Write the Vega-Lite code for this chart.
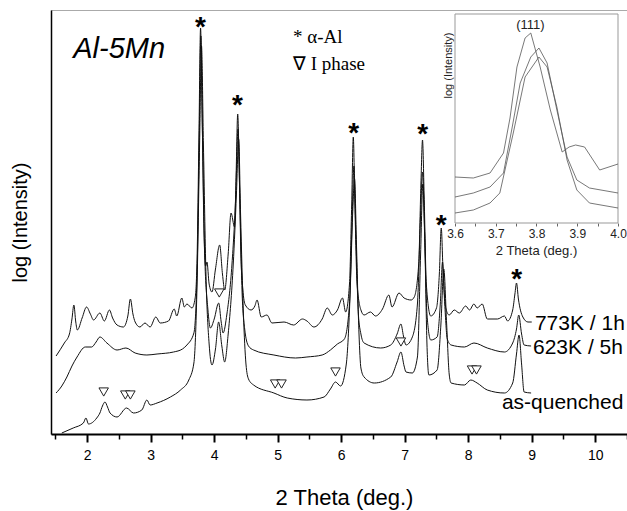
{
  "$schema": "https://vega.github.io/schema/vega-lite/v6.json",
  "width": 576,
  "height": 424,
  "autosize": "none",
  "padding": {"left": 51, "top": 10, "right": 0, "bottom": 77},
  "background": "white",
  "config": {
    "view": {"stroke": "#aaaaaa", "strokeWidth": 1},
    "font": "Liberation Sans",
    "axis": {"grid": false, "labelFlush": false, "labelOverlap": false}
  },
  "datasets": {
    "curves": [
      {"s":"773K","x":1.51,"y":78},{"s":"773K","x":1.64,"y":91},{"s":"773K","x":1.72,"y":100},{"s":"773K","x":1.76,"y":115},{"s":"773K","x":1.79,"y":129},{"s":"773K","x":1.82,"y":112},{"s":"773K","x":1.845,"y":104},{"s":"773K","x":1.92,"y":116},{"s":"773K","x":1.99,"y":127},{"s":"773K","x":2.05,"y":120},{"s":"773K","x":2.1,"y":114},{"s":"773K","x":2.2,"y":121},{"s":"773K","x":2.27,"y":113},{"s":"773K","x":2.35,"y":124},{"s":"773K","x":2.4,"y":116},{"s":"773K","x":2.47,"y":109},{"s":"773K","x":2.57,"y":107},{"s":"773K","x":2.64,"y":118},{"s":"773K","x":2.68,"y":135},{"s":"773K","x":2.72,"y":120},{"s":"773K","x":2.755,"y":112},{"s":"773K","x":2.83,"y":107},{"s":"773K","x":2.91,"y":111},{"s":"773K","x":2.99,"y":107},{"s":"773K","x":3.08,"y":117},{"s":"773K","x":3.15,"y":111},{"s":"773K","x":3.28,"y":113},{"s":"773K","x":3.37,"y":125},{"s":"773K","x":3.41,"y":118},{"s":"773K","x":3.49,"y":136},{"s":"773K","x":3.53,"y":127},{"s":"773K","x":3.57,"y":130},{"s":"773K","x":3.65,"y":126},{"s":"773K","x":3.7,"y":136},{"s":"773K","x":3.73,"y":175},{"s":"773K","x":3.76,"y":300},{"s":"773K","x":3.785,"y":406},{"s":"773K","x":3.81,"y":320},{"s":"773K","x":3.84,"y":200},{"s":"773K","x":3.865,"y":168},{"s":"773K","x":3.886,"y":172},{"s":"773K","x":3.92,"y":150},{"s":"773K","x":3.965,"y":142},{"s":"773K","x":4.02,"y":165},{"s":"773K","x":4.086,"y":189},{"s":"773K","x":4.13,"y":160},{"s":"773K","x":4.165,"y":144},{"s":"773K","x":4.22,"y":180},{"s":"773K","x":4.265,"y":221},{"s":"773K","x":4.32,"y":207},{"s":"773K","x":4.345,"y":260},{"s":"773K","x":4.37,"y":320},{"s":"773K","x":4.395,"y":260},{"s":"773K","x":4.42,"y":180},{"s":"773K","x":4.45,"y":145},{"s":"773K","x":4.49,"y":129},{"s":"773K","x":4.58,"y":124},{"s":"773K","x":4.64,"y":128},{"s":"773K","x":4.675,"y":134},{"s":"773K","x":4.74,"y":117},{"s":"773K","x":4.83,"y":119},{"s":"773K","x":4.91,"y":111},{"s":"773K","x":5.1,"y":112},{"s":"773K","x":5.25,"y":109},{"s":"773K","x":5.39,"y":115},{"s":"773K","x":5.46,"y":113},{"s":"773K","x":5.57,"y":107},{"s":"773K","x":5.7,"y":115},{"s":"773K","x":5.78,"y":126},{"s":"773K","x":5.86,"y":119},{"s":"773K","x":5.94,"y":124},{"s":"773K","x":6.02,"y":136},{"s":"773K","x":6.07,"y":122},{"s":"773K","x":6.13,"y":150},{"s":"773K","x":6.165,"y":230},{"s":"773K","x":6.19,"y":297},{"s":"773K","x":6.215,"y":230},{"s":"773K","x":6.25,"y":150},{"s":"773K","x":6.31,"y":124},{"s":"773K","x":6.36,"y":119},{"s":"773K","x":6.46,"y":122},{"s":"773K","x":6.54,"y":118},{"s":"773K","x":6.65,"y":125},{"s":"773K","x":6.75,"y":139},{"s":"773K","x":6.8,"y":127},{"s":"773K","x":6.91,"y":141},{"s":"773K","x":6.99,"y":136},{"s":"773K","x":7.1,"y":134},{"s":"773K","x":7.15,"y":137},{"s":"773K","x":7.22,"y":170},{"s":"773K","x":7.255,"y":250},{"s":"773K","x":7.28,"y":294},{"s":"773K","x":7.305,"y":240},{"s":"773K","x":7.34,"y":150},{"s":"773K","x":7.41,"y":118},{"s":"773K","x":7.5,"y":126},{"s":"773K","x":7.545,"y":160},{"s":"773K","x":7.575,"y":206},{"s":"773K","x":7.605,"y":160},{"s":"773K","x":7.65,"y":125},{"s":"773K","x":7.7,"y":119},{"s":"773K","x":7.78,"y":124},{"s":"773K","x":7.86,"y":121},{"s":"773K","x":7.96,"y":128},{"s":"773K","x":8.02,"y":124},{"s":"773K","x":8.09,"y":130},{"s":"773K","x":8.14,"y":126},{"s":"773K","x":8.22,"y":130},{"s":"773K","x":8.3,"y":115},{"s":"773K","x":8.46,"y":115},{"s":"773K","x":8.57,"y":118},{"s":"773K","x":8.62,"y":113},{"s":"773K","x":8.7,"y":124},{"s":"773K","x":8.735,"y":140},{"s":"773K","x":8.76,"y":151},{"s":"773K","x":8.79,"y":135},{"s":"773K","x":8.86,"y":117},{"s":"773K","x":8.94,"y":112},{"s":"773K","x":9.0,"y":112},
      {"s":"623K","x":1.51,"y":41},{"s":"623K","x":1.6,"y":48},{"s":"623K","x":1.68,"y":57},{"s":"623K","x":1.76,"y":68},{"s":"623K","x":1.84,"y":77},{"s":"623K","x":1.97,"y":87},{"s":"623K","x":2.07,"y":87},{"s":"623K","x":2.14,"y":92},{"s":"623K","x":2.2,"y":97},{"s":"623K","x":2.31,"y":91},{"s":"623K","x":2.47,"y":84},{"s":"623K","x":2.61,"y":86},{"s":"623K","x":2.755,"y":81},{"s":"623K","x":2.94,"y":79},{"s":"623K","x":3.1,"y":80},{"s":"623K","x":3.36,"y":82},{"s":"623K","x":3.5,"y":85},{"s":"623K","x":3.57,"y":89},{"s":"623K","x":3.68,"y":101},{"s":"623K","x":3.73,"y":160},{"s":"623K","x":3.765,"y":300},{"s":"623K","x":3.79,"y":398},{"s":"623K","x":3.815,"y":300},{"s":"623K","x":3.85,"y":180},{"s":"623K","x":3.9,"y":125},{"s":"623K","x":3.94,"y":106},{"s":"623K","x":4.0,"y":115},{"s":"623K","x":4.07,"y":131},{"s":"623K","x":4.11,"y":112},{"s":"623K","x":4.14,"y":101},{"s":"623K","x":4.2,"y":120},{"s":"623K","x":4.28,"y":170},{"s":"623K","x":4.34,"y":240},{"s":"623K","x":4.375,"y":305},{"s":"623K","x":4.405,"y":230},{"s":"623K","x":4.44,"y":140},{"s":"623K","x":4.48,"y":105},{"s":"623K","x":4.54,"y":88},{"s":"623K","x":4.62,"y":84},{"s":"623K","x":4.94,"y":79},{"s":"623K","x":5.28,"y":76},{"s":"623K","x":5.46,"y":77},{"s":"623K","x":5.7,"y":79},{"s":"623K","x":5.83,"y":84},{"s":"623K","x":5.94,"y":90},{"s":"623K","x":6.05,"y":95},{"s":"623K","x":6.13,"y":130},{"s":"623K","x":6.17,"y":210},{"s":"623K","x":6.2,"y":268},{"s":"623K","x":6.23,"y":200},{"s":"623K","x":6.27,"y":120},{"s":"623K","x":6.31,"y":100},{"s":"623K","x":6.36,"y":91},{"s":"623K","x":6.62,"y":86},{"s":"623K","x":6.78,"y":89},{"s":"623K","x":6.88,"y":100},{"s":"623K","x":6.94,"y":110},{"s":"623K","x":6.98,"y":98},{"s":"623K","x":7.02,"y":89},{"s":"623K","x":7.12,"y":97},{"s":"623K","x":7.2,"y":130},{"s":"623K","x":7.25,"y":220},{"s":"623K","x":7.28,"y":262},{"s":"623K","x":7.31,"y":210},{"s":"623K","x":7.35,"y":120},{"s":"623K","x":7.41,"y":94},{"s":"623K","x":7.51,"y":97},{"s":"623K","x":7.56,"y":130},{"s":"623K","x":7.595,"y":172},{"s":"623K","x":7.63,"y":130},{"s":"623K","x":7.67,"y":95},{"s":"623K","x":7.73,"y":89},{"s":"623K","x":7.94,"y":87},{"s":"623K","x":8.09,"y":91},{"s":"623K","x":8.3,"y":86},{"s":"623K","x":8.57,"y":82},{"s":"623K","x":8.7,"y":91},{"s":"623K","x":8.76,"y":105},{"s":"623K","x":8.795,"y":119},{"s":"623K","x":8.84,"y":100},{"s":"623K","x":8.88,"y":89},{"s":"623K","x":8.99,"y":88},
      {"s":"aq","x":1.6,"y":1},{"s":"aq","x":1.78,"y":6},{"s":"aq","x":1.94,"y":11},{"s":"aq","x":1.98,"y":16},{"s":"aq","x":2.02,"y":10},{"s":"aq","x":2.15,"y":16},{"s":"aq","x":2.2,"y":21},{"s":"aq","x":2.24,"y":28},{"s":"aq","x":2.28,"y":32},{"s":"aq","x":2.32,"y":27},{"s":"aq","x":2.36,"y":21},{"s":"aq","x":2.47,"y":17},{"s":"aq","x":2.62,"y":26},{"s":"aq","x":2.73,"y":21},{"s":"aq","x":2.86,"y":24},{"s":"aq","x":2.94,"y":34},{"s":"aq","x":2.99,"y":29},{"s":"aq","x":3.1,"y":31},{"s":"aq","x":3.31,"y":37},{"s":"aq","x":3.47,"y":44},{"s":"aq","x":3.6,"y":54},{"s":"aq","x":3.68,"y":71},{"s":"aq","x":3.73,"y":150},{"s":"aq","x":3.77,"y":290},{"s":"aq","x":3.8,"y":388},{"s":"aq","x":3.83,"y":290},{"s":"aq","x":3.87,"y":160},{"s":"aq","x":3.92,"y":90},{"s":"aq","x":3.965,"y":69},{"s":"aq","x":4.02,"y":85},{"s":"aq","x":4.07,"y":112},{"s":"aq","x":4.12,"y":88},{"s":"aq","x":4.165,"y":72},{"s":"aq","x":4.22,"y":100},{"s":"aq","x":4.3,"y":170},{"s":"aq","x":4.35,"y":240},{"s":"aq","x":4.385,"y":295},{"s":"aq","x":4.415,"y":220},{"s":"aq","x":4.46,"y":120},{"s":"aq","x":4.5,"y":70},{"s":"aq","x":4.54,"y":55},{"s":"aq","x":4.62,"y":49},{"s":"aq","x":4.94,"y":41},{"s":"aq","x":5.15,"y":36},{"s":"aq","x":5.46,"y":34},{"s":"aq","x":5.73,"y":37},{"s":"aq","x":5.83,"y":45},{"s":"aq","x":5.91,"y":52},{"s":"aq","x":5.99,"y":48},{"s":"aq","x":6.08,"y":70},{"s":"aq","x":6.14,"y":140},{"s":"aq","x":6.18,"y":220},{"s":"aq","x":6.21,"y":255},{"s":"aq","x":6.24,"y":190},{"s":"aq","x":6.28,"y":100},{"s":"aq","x":6.31,"y":66},{"s":"aq","x":6.36,"y":57},{"s":"aq","x":6.52,"y":51},{"s":"aq","x":6.78,"y":57},{"s":"aq","x":6.88,"y":72},{"s":"aq","x":6.94,"y":82},{"s":"aq","x":6.99,"y":68},{"s":"aq","x":7.02,"y":62},{"s":"aq","x":7.12,"y":61},{"s":"aq","x":7.2,"y":77},{"s":"aq","x":7.25,"y":180},{"s":"aq","x":7.285,"y":250},{"s":"aq","x":7.32,"y":180},{"s":"aq","x":7.35,"y":90},{"s":"aq","x":7.38,"y":59},{"s":"aq","x":7.51,"y":64},{"s":"aq","x":7.57,"y":110},{"s":"aq","x":7.615,"y":165},{"s":"aq","x":7.66,"y":110},{"s":"aq","x":7.7,"y":60},{"s":"aq","x":7.73,"y":51},{"s":"aq","x":7.94,"y":49},{"s":"aq","x":8.04,"y":54},{"s":"aq","x":8.14,"y":51},{"s":"aq","x":8.3,"y":44},{"s":"aq","x":8.57,"y":41},{"s":"aq","x":8.7,"y":51},{"s":"aq","x":8.76,"y":80},{"s":"aq","x":8.8,"y":99},{"s":"aq","x":8.84,"y":70},{"s":"aq","x":8.88,"y":42},{"s":"aq","x":8.99,"y":41}
    ],
    "stars": [
      {"x":3.785,"y":414},{"x":4.365,"y":336},{"x":6.195,"y":308},{"x":7.285,"y":307},{"x":7.575,"y":216},{"x":8.765,"y":162}
    ],
    "tri": [
      {"x":2.26,"y":42},{"x":2.6,"y":39},{"x":2.68,"y":39},{"x":4.08,"y":141},{"x":4.96,"y":50},{"x":5.06,"y":50},{"x":5.91,"y":62},{"x":6.94,"y":92},{"x":8.06,"y":64},{"x":8.13,"y":64}
    ],
    "labels": [
      {"t":"773K / 1h","x":9.05,"y":104},{"t":"623K / 5h","x":9.02,"y":80},{"t":"as-quenched","x":8.53,"y":25}
    ],
    "legend": [
      {"t":"*  α-Al","x":5.24,"y":391},{"t":"∇ I phase","x":5.24,"y":364}
    ],
    "title": [{"t":"Al-5Mn","x":1.78,"y":376}],
    "frame": [{"x":3.6,"x2":4.0,"y":0,"y2":209}],
    "inset": [
      {"s":"773K","x":3.6,"y":46},{"s":"773K","x":3.645,"y":45},{"s":"773K","x":3.686,"y":50},{"s":"773K","x":3.719,"y":70},{"s":"773K","x":3.735,"y":105},{"s":"773K","x":3.752,"y":156},{"s":"773K","x":3.772,"y":185},{"s":"773K","x":3.786,"y":190},{"s":"773K","x":3.809,"y":156},{"s":"773K","x":3.834,"y":113},{"s":"773K","x":3.863,"y":71},{"s":"773K","x":3.88,"y":76},{"s":"773K","x":3.896,"y":78},{"s":"773K","x":3.918,"y":76},{"s":"773K","x":3.955,"y":53},{"s":"773K","x":4.0,"y":59},
      {"s":"623K","x":3.6,"y":26},{"s":"623K","x":3.645,"y":30},{"s":"623K","x":3.686,"y":36},{"s":"623K","x":3.719,"y":50},{"s":"623K","x":3.74,"y":95},{"s":"623K","x":3.76,"y":140},{"s":"623K","x":3.786,"y":166},{"s":"623K","x":3.806,"y":175},{"s":"623K","x":3.826,"y":160},{"s":"623K","x":3.85,"y":113},{"s":"623K","x":3.875,"y":66},{"s":"623K","x":3.899,"y":43},{"s":"623K","x":3.93,"y":35},{"s":"623K","x":4.0,"y":30},
      {"s":"aq","x":3.6,"y":10},{"s":"aq","x":3.645,"y":13},{"s":"aq","x":3.686,"y":20},{"s":"aq","x":3.71,"y":30},{"s":"aq","x":3.743,"y":90},{"s":"aq","x":3.772,"y":146},{"s":"aq","x":3.806,"y":166},{"s":"aq","x":3.826,"y":156},{"s":"aq","x":3.85,"y":116},{"s":"aq","x":3.875,"y":63},{"s":"aq","x":3.899,"y":33},{"s":"aq","x":3.93,"y":20},{"s":"aq","x":4.0,"y":15}
    ],
    "insetlabel": [{"t":"(111)","x":3.785,"y":198}]
  },
  "layer": [
    {
      "layer": [
        {
          "data": {"name": "curves"},
          "mark": {"type": "line", "color": "#111111", "strokeWidth": 1, "interpolate": "monotone"},
          "encoding": {
            "x": {"field": "x", "type": "quantitative",
              "scale": {"domain": [1.43, 10.5], "nice": false, "zero": false},
              "axis": {
                "orient": "bottom",
                "values": [2,3,4,5,6,7,8,9,10],
                "format": "d",
                "tickSize": 8, "tickWidth": 2,
                "tickColor": "black", "domainColor": "black", "domainWidth": 2,
                "labelFontSize": 14, "labelColor": "black", "labelPadding": 6, "labelFont": "Liberation Sans",
                "title": "2 Theta (deg.)", "titleFontSize": 22, "titleFontWeight": "normal", "titleColor": "black", "titleFont": "Liberation Sans",
                "titleX": 293, "titleY": 70, "titleBaseline": "alphabetic"
              }
            },
            "y": {"field": "y", "type": "quantitative",
              "scale": {"domain": [0, 424], "nice": false, "zero": false},
              "axis": {
                "orient": "left", "ticks": false, "labels": false,
                "domainColor": "black", "domainWidth": 1.5,
                "title": "log (Intensity)", "titleFontSize": 20, "titleFontWeight": "normal", "titleColor": "black", "titleFont": "Liberation Sans",
                "titleX": -21, "titleY": 212
              }
            },
            "detail": {"field": "s", "type": "nominal"}
          }
        },
        {
          "data": {"name": "tri"},
          "mark": {"type": "point", "shape": "triangle-down", "size": 90, "filled": true, "fill": "white", "stroke": "#222222", "strokeWidth": 1, "opacity": 1},
          "encoding": {
            "x": {"field": "x", "type": "quantitative",
              "axis": {
                "orient": "bottom",
                "values": [1.5,2.5,3.5,4.5,5.5,6.5,7.5,8.5,9.5,10.5],
                "labels": false, "domain": false,
                "tickSize": 5, "tickWidth": 1.5, "tickColor": "black",
                "title": null
              }
            },
            "y": {"field": "y", "type": "quantitative"}
          }
        },
        {
          "data": {"name": "stars"},
          "mark": {"type": "text", "text": "*", "font": "Liberation Sans", "fontWeight": "bold", "fontSize": 28, "color": "black", "baseline": "alphabetic", "dy": 16},
          "encoding": {
            "x": {"field": "x", "type": "quantitative", "axis": null},
            "y": {"field": "y", "type": "quantitative"}
          }
        },
        {
          "data": {"name": "labels"},
          "mark": {"type": "text", "font": "Liberation Sans", "fontSize": 21, "color": "black", "align": "left", "baseline": "alphabetic"},
          "encoding": {
            "x": {"field": "x", "type": "quantitative", "axis": null},
            "y": {"field": "y", "type": "quantitative"},
            "text": {"field": "t"}
          }
        },
        {
          "data": {"name": "legend"},
          "mark": {"type": "text", "font": "Liberation Serif", "fontSize": 19, "color": "black", "align": "left", "baseline": "alphabetic"},
          "encoding": {
            "x": {"field": "x", "type": "quantitative", "axis": null},
            "y": {"field": "y", "type": "quantitative"},
            "text": {"field": "t"}
          }
        },
        {
          "data": {"name": "title"},
          "mark": {"type": "text", "font": "Liberation Sans", "fontSize": 29, "fontStyle": "italic", "color": "black", "align": "left", "baseline": "alphabetic"},
          "encoding": {
            "x": {"field": "x", "type": "quantitative", "axis": null},
            "y": {"field": "y", "type": "quantitative"},
            "text": {"field": "t"}
          }
        }
      ],
      "resolve": {"axis": {"x": "independent"}}
    },
    {
      "layer": [
        {
          "data": {"name": "frame"},
          "mark": {"type": "rect", "fill": "white", "stroke": "#999999", "strokeWidth": 1},
          "encoding": {
            "x": {"field": "x", "type": "quantitative",
              "scale": {"domain": [3.6, 4.0], "range": [404, 567], "nice": false, "zero": false},
              "axis": {
                "orient": "bottom", "offset": -211, "domain": false,
                "values": [3.6,3.65,3.7,3.75,3.8,3.85,3.9,3.95,4.0],
                "labelExpr": "round(datum.value*100) % 10 === 0 ? format(datum.value, '.1f') : ''",
                "tickSize": 3, "tickColor": "#666666", "tickWidth": 1,
                "labelFontSize": 12, "labelColor": "#222222", "labelPadding": 2, "labelFont": "Liberation Sans",
                "title": "2 Theta (deg.)", "titleFontSize": 13, "titleFontWeight": "normal", "titleColor": "#222222", "titleFont": "Liberation Sans",
                "titleX": 485, "titleY": 31, "titleBaseline": "alphabetic"
              }
            },
            "x2": {"field": "x2"},
            "y": {"field": "y", "type": "quantitative",
              "scale": {"domain": [0, 209], "range": [213, 4], "nice": false, "zero": false},
              "axis": {
                "orient": "left", "offset": -404, "domain": false, "ticks": false, "labels": false,
                "title": "log (Intensity)", "titleFontSize": 11, "titleFontWeight": "normal", "titleColor": "#222222", "titleFont": "Liberation Sans",
                "titleX": -2, "titleY": 55
              }
            },
            "y2": {"field": "y2"}
          }
        },
        {
          "data": {"name": "inset"},
          "mark": {"type": "line", "color": "#555555", "strokeWidth": 0.8},
          "encoding": {
            "x": {"field": "x", "type": "quantitative"},
            "y": {"field": "y", "type": "quantitative"},
            "detail": {"field": "s", "type": "nominal"}
          }
        },
        {
          "data": {"name": "insetlabel"},
          "mark": {"type": "text", "font": "Liberation Sans", "fontSize": 13, "color": "#222222", "baseline": "middle"},
          "encoding": {
            "x": {"field": "x", "type": "quantitative"},
            "y": {"field": "y", "type": "quantitative"},
            "text": {"field": "t"}
          }
        }
      ]
    }
  ],
  "resolve": {"scale": {"x": "independent", "y": "independent"}}
}
